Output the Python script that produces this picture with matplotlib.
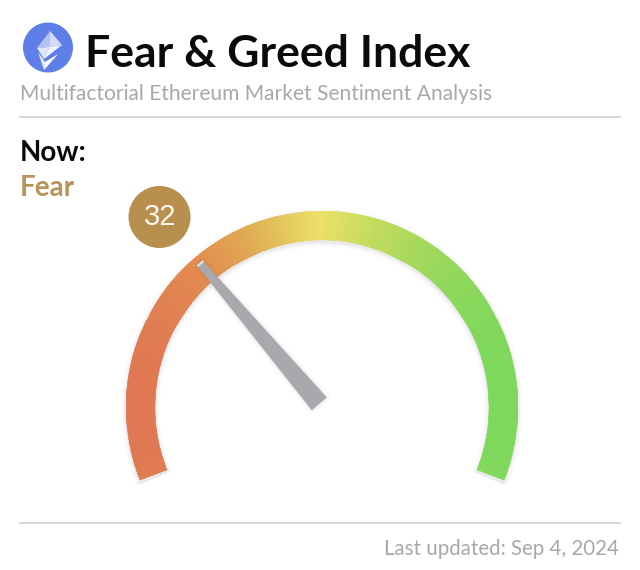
import numpy as np
import matplotlib
matplotlib.use("Agg")
import matplotlib.pyplot as plt
from matplotlib.colors import LinearSegmentedColormap
from matplotlib.patches import Circle, Polygon, Wedge

title = "Fear & Greed Index"
subtitle = "Multifactorial Ethereum Market Sentiment Analysis"
now_label = "Now:"
status = "Fear"
updated = "Last updated: Sep 4, 2024"

value = 32
scale_min = 0
scale_max = 100

# gradient runs left to right across the gauge
stop_positions = [0.0, 0.16, 0.29, 0.42, 0.495, 0.62, 0.75, 0.88, 1.0]
stop_colors = ["#df7853", "#e38a50", "#dfa953", "#e5cd60", "#ebe068", "#c8dc60", "#a8d95c", "#8cd85c", "#7dd85c"]

plt.rcParams["font.family"] = ["Lato", "Open Sans", "DejaVu Sans"]

# pixel coordinates, y going down like the picture
fig = plt.figure(figsize=(6.4, 5.7), dpi=100)
ax = fig.add_axes([0, 0, 1, 1])
ax.set_xlim(0, 640)
ax.set_ylim(570, 0)
ax.axis("off")

# gauge geometry
cx, cy = 322, 407
r_out, r_in = 196, 167
start_deg, end_deg = 202, -22


def to_angle(v):
    frac = (v - scale_min) / (scale_max - scale_min)
    return start_deg + frac * (end_deg - start_deg)


# soft shadow under the arc, the axis is flipped so the angles are negated
for grow, alpha in [(5, 0.015), (3.5, 0.025), (2, 0.035), (1, 0.05)]:
    ax.add_patch(Wedge((cx, cy + 2), r_out + grow, -start_deg - 0.5, -end_deg + 0.5,
                       width=r_out - r_in + 2 * grow, fc="#555555", ec="none", alpha=alpha, zorder=1))

# gradient arc, mesh is a bit bigger than the band and gets clipped for a smooth edge
cmap = LinearSegmentedColormap.from_list("gauge", list(zip(stop_positions, stop_colors)))
theta = np.radians(np.linspace(start_deg + 1, end_deg - 1, 401))
radii = np.array([r_in - 3, r_out + 3])
tt, rr = np.meshgrid(theta, radii)
xx = cx + rr * np.cos(tt)
yy = cy - rr * np.sin(tt)
mid = (theta[:-1] + theta[1:]) / 2
cc = ((np.cos(mid) + 1) / 2)[np.newaxis, :]
mesh = ax.pcolormesh(xx, yy, cc, cmap=cmap, vmin=0, vmax=1, shading="flat",
                     edgecolors="face", linewidth=0.3, zorder=2)
band = Wedge((cx, cy), r_out, -start_deg, -end_deg, width=r_out - r_in, fc="none", ec="none",
             transform=ax.transData)
ax.add_patch(band)
mesh.set_clip_path(band)

# needle
ang = np.radians(to_angle(value))
ux, uy = np.cos(ang), -np.sin(ang)
nx, ny = -uy, ux
bx, by = cx + 5 * ux, cy + 5 * uy
tx, ty = cx + 188 * ux, cy + 188 * uy
needle = [(bx + 9 * nx, by + 9 * ny), (tx + 3 * nx, ty + 3 * ny),
          (tx - 3 * nx, ty - 3 * ny), (bx - 9 * nx, by - 9 * ny)]
for grow, alpha in [(3, 0.03), (1.5, 0.06)]:
    ax.add_patch(Polygon(needle, closed=True, fc="#555555", ec="#555555", lw=grow * 2,
                         alpha=alpha, zorder=3, joinstyle="round"))
ax.add_patch(Polygon(needle, closed=True, fc="#a9a9ad", ec="#a9a9ad", lw=1.2, zorder=4, joinstyle="round"))
ax.plot([tx + 3 * nx, tx - 3 * nx], [ty + 3 * ny, ty - 3 * ny], color="#e4e4e6", lw=1.4, zorder=5)

# value badge
ax.add_patch(Circle((159.5, 217), 31, fc="#b98f4f", ec="none", zorder=5))
ax.text(160, 217, str(value), color="#fbf6ec", fontsize=21, family="Liberation Sans",
        ha="center", va="center", zorder=6)

# ethereum logo
ax.add_patch(Circle((48, 47.5), 25, fc="#5f7fe8", ec="none"))
ax.add_patch(Polygon([(50, 31), (49, 47), (37, 48)], fc="#b4c1f3", ec="none"))
ax.add_patch(Polygon([(50, 31), (49, 47), (62, 45)], fc="#d3dbf8", ec="none"))
ax.add_patch(Polygon([(37, 48), (49, 47), (44, 59)], fc="#dfe4f8", ec="none"))
ax.add_patch(Polygon([(49, 47), (62, 45), (44, 59)], fc="#f1f3fc", ec="none"))
ax.add_patch(Polygon([(38, 52), (45, 62), (44, 70)], fc="#e6eafa", ec="none"))
ax.add_patch(Polygon([(45, 62), (58, 54), (44, 70)], fc="#ffffff", ec="none"))

# texts
ax.text(85, 67, title, fontsize=32, fontweight="bold", color="#0a0a0a", ha="left", va="baseline")
ax.text(20.5, 100, subtitle, fontsize=15.1, color="#a8a8a8", ha="left", va="baseline")
ax.text(20, 161, now_label, fontsize=20, fontweight="bold", color="#0a0a0a", ha="left", va="baseline")
ax.text(20, 196, status, fontsize=20, fontweight="bold", color="#b8935a", ha="left", va="baseline")
ax.text(619, 555, updated, fontsize=14.8, color="#a8a8a8", ha="right", va="baseline")

# separators
ax.plot([20, 620], [116.5, 116.5], color="#cfcfcf", lw=1.2, zorder=1)
ax.plot([20, 620], [522.5, 522.5], color="#cfcfcf", lw=1.2, zorder=1)

fig.savefig("out.png", dpi=100)
